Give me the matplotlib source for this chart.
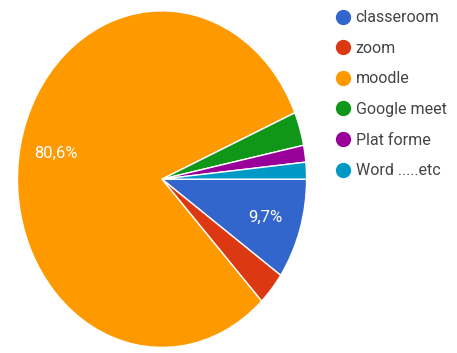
import matplotlib
matplotlib.use('Agg')
import matplotlib.pyplot as plt
from matplotlib.lines import Line2D

# survey answers (62 respondents)
labels = ['classeroom', 'zoom', 'moodle', 'Google meet', 'Plat forme', 'Word .....etc']
counts = [6, 2, 50, 2, 1, 1]
colors = ['#3366cc', '#dc3912', '#ff9900', '#109618', '#990099', '#0099c6']

plt.rcParams['font.family'] = ['Roboto', 'DejaVu Sans']

fig = plt.figure(figsize=(4.57, 3.53), dpi=100)
ax = fig.add_axes([0.035, 0.011, 0.639, 0.963])


def pct_label(p):
    # only the big slices carry a label, with a decimal comma
    if p < 5:
        return ''
    return ('%.1f%%' % p).replace('.', ',')


wedges, texts, autotexts = ax.pie(counts, colors=colors, startangle=0, counterclock=False,
                                  autopct=pct_label, pctdistance=0.75,
                                  wedgeprops={'edgecolor': 'white', 'linewidth': 1})
for t in autotexts:
    t.set_color('white')
    t.set_fontsize(12)
ax.set_aspect('auto')
ax.set_xlim(-1.01, 1.01)
ax.set_ylim(-1.01, 1.01)

handles = [Line2D([0], [0], marker='o', linestyle='', markersize=10,
                  markerfacecolor=c, markeredgecolor=c) for c in colors]
leg = fig.legend(handles, labels, loc='upper left', bbox_to_anchor=(0.708, 1.003),
                 frameon=False, fontsize=11.5, labelspacing=0.98, handletextpad=0.3,
                 handlelength=1.0, borderpad=0.2)
for t in leg.get_texts():
    t.set_color('#444444')

fig.savefig('out.png', dpi=100)
